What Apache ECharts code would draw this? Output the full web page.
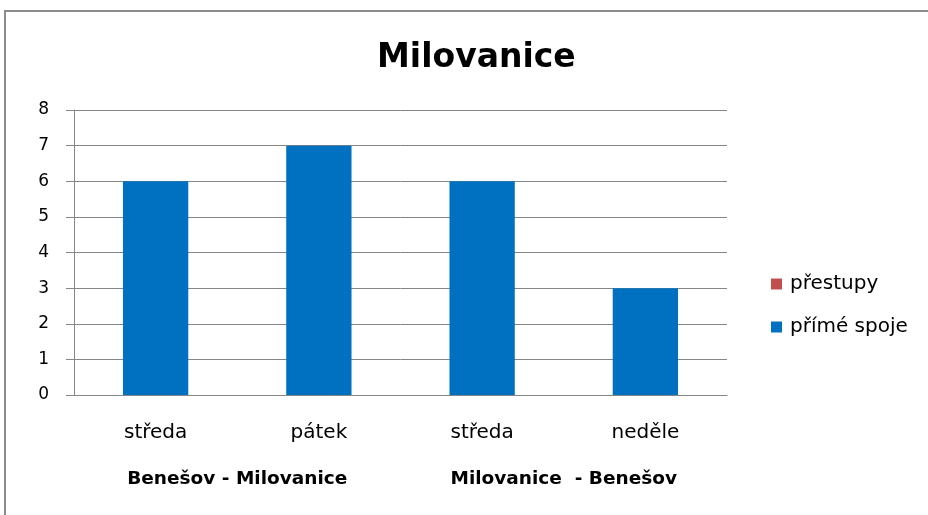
<!DOCTYPE html>
<html>
<head>
<meta charset="utf-8">
<script src="https://cdn.jsdelivr.net/npm/echarts@6/dist/echarts.min.js"></script>
<style>
  html, body { margin: 0; padding: 0; background: #fff; }
  #chart { width: 928px; height: 515px; }
</style>
</head>
<body>
<div id="chart"></div>
<script>
// data
var days = ['středa', 'pátek', 'středa', 'neděle'];
var routes = ['Benešov - Milovanice', 'Milovanice  - Benešov'];
var prestupy = [0, 0, 0, 0];
var primeSpoje = [6, 7, 6, 3];

var font = 'DejaVu Sans';
var gray = '#868686';

var chart = echarts.init(document.getElementById('chart'));
var option = {
    backgroundColor: '#fff',
    animation: false,
    textStyle: { fontFamily: font },
    title: {
        text: 'Milovanice',
        left: 372,
        top: 37,
        textStyle: { fontFamily: font, fontSize: 33, fontWeight: 'bold', color: '#000' }
    },
    graphic: [{
        type: 'rect',
        shape: { x: 5, y: 11, width: 940, height: 520 },
        style: { fill: 'none', stroke: '#8c8c8c', lineWidth: 2 },
        silent: true
    }],
    legend: {
        data: ['přestupy', 'přímé spoje'],
        orient: 'vertical',
        left: 766,
        top: 269,
        itemWidth: 11,
        itemHeight: 11,
        itemGap: 23,
        icon: 'rect',
        textStyle: { fontFamily: font, fontSize: 20, color: '#000', padding: [0, 0, 0, 3] }
    },
    grid: { left: 74, right: 201, top: 110, bottom: 120 },
    xAxis: [{
        type: 'category',
        data: days,
        axisLine: { lineStyle: { color: gray } },
        axisTick: { length: 6, lineStyle: { color: gray } },
        axisLabel: { margin: 28, fontSize: 20, color: '#000', fontFamily: font }
    }, {
        type: 'category',
        data: routes,
        position: 'bottom',
        offset: 0,
        axisLine: { show: false },
        axisTick: { show: false },
        axisLabel: { margin: 75, fontSize: 18.5, fontWeight: 'bold', color: '#000', fontFamily: font }
    }],
    yAxis: {
        type: 'value',
        min: 0,
        max: 8,
        interval: 1,
        axisLine: { show: true, lineStyle: { color: gray } },
        axisTick: { show: true, length: 8, lineStyle: { color: gray } },
        splitLine: { lineStyle: { color: gray } },
        axisLabel: { margin: 25, fontSize: 17, color: '#000', fontFamily: font }
    },
    series: [{
        name: 'přímé spoje',
        type: 'bar',
        stack: 'a',
        data: primeSpoje,
        barWidth: '40%',
        itemStyle: { color: '#0070C0' }
    }, {
        name: 'přestupy',
        type: 'bar',
        stack: 'a',
        data: prestupy,
        barWidth: '40%',
        itemStyle: { color: '#C0504D' }
    }]
};
chart.setOption(option);
</script>
</body>
</html>
